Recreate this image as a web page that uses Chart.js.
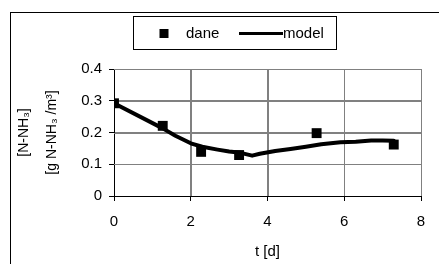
<!DOCTYPE html>
<html>
<head>
<meta charset="utf-8">
<script src="https://cdn.jsdelivr.net/npm/chart.js@4/dist/chart.umd.min.js"></script>
<style>
html,body{margin:0;padding:0;background:#fff;}
#wrap{width:439px;height:264px;position:relative;}
</style>
</head>
<body>
<div id="wrap"><canvas id="c" width="439" height="264"></canvas></div>
<script>
// Measured data ("dane")
const daneT = [0, 1.27, 2.27, 3.26, 5.28, 7.29];
const daneV = [0.292, 0.221, 0.139, 0.129, 0.198, 0.162];
// Model curve
const modelT = [0, 1.27, 1.6, 2.0, 2.3, 2.7, 3.0, 3.3, 3.6, 3.8, 4.2, 4.6, 5.0, 5.4, 5.9, 6.3, 6.7, 7.0, 7.29];
const modelV = [0.292, 0.213, 0.19, 0.166, 0.155, 0.146, 0.14, 0.136, 0.127, 0.133, 0.142, 0.148, 0.155, 0.163, 0.169, 0.171, 0.175, 0.175, 0.174];
// Axes
const xTicks = [0, 2, 4, 6, 8];
const yTicks = [0, 0.1, 0.2, 0.3, 0.4];
const seriesNames = ['dane', 'model'];
const xTitle = 't [d]';
const yTitle = ['[N-NH\u2083]', '[g N-NH\u2083 /m\u00B3]'];

const FONT = 'Liberation Sans, Arial, sans-serif';
const GRID = '#808080';

const framePlugin = {
  id: 'frame',
  beforeDraw(chart) {
    const ctx = chart.ctx;
    ctx.save();
    ctx.fillStyle = '#fff';
    ctx.fillRect(0, 0, chart.width, chart.height);
    ctx.strokeStyle = '#000';
    ctx.lineWidth = 1;
    ctx.strokeRect(10.5, 12.5, 500, 400);
    ctx.restore();
  },
  beforeDatasetsDraw(chart) {
    // gridlines through the library's scales
    const ctx = chart.ctx;
    const xs = chart.scales.x, ys = chart.scales.y;
    const a = chart.chartArea;
    ctx.save();
    ctx.strokeStyle = GRID;
    ctx.lineWidth = 1;
    ctx.beginPath();
    xTicks.forEach(v => {
      if (v === xs.min) return;
      const px = Math.round(xs.getPixelForValue(v)) + 0.5;
      ctx.moveTo(px, a.top);
      ctx.lineTo(px, a.bottom);
    });
    yTicks.forEach(v => {
      if (v === ys.min) return;
      const py = Math.round(ys.getPixelForValue(v)) + 0.5;
      ctx.moveTo(a.left, py);
      ctx.lineTo(a.right, py);
    });
    ctx.stroke();
    ctx.restore();
  },
  afterDraw(chart) {
    const ctx = chart.ctx;
    ctx.save();
    // legend box
    ctx.strokeStyle = '#000';
    ctx.lineWidth = 1;
    ctx.strokeRect(133.5, 16.5, 203, 33);
    const cy = 33.5;
    ctx.fillStyle = '#000';
    ctx.fillRect(159.5, cy - 4.5, 9, 9);
    ctx.font = '15px ' + FONT;
    ctx.textBaseline = 'middle';
    ctx.textAlign = 'left';
    ctx.fillText(chart.data.datasets[0].label, 186, cy);
    ctx.beginPath();
    ctx.lineWidth = 3;
    ctx.moveTo(239, cy);
    ctx.lineTo(283, cy);
    ctx.stroke();
    ctx.fillText(chart.data.datasets[1].label, 283, cy);
    ctx.restore();
  }
};

new Chart(document.getElementById('c'), {
  type: 'scatter',
  data: {
    datasets: [
      {
        label: seriesNames[0],
        data: daneT.map((t, i) => ({x: t, y: daneV[i]})),
        pointStyle: 'rect',
        pointRadius: 7,
        pointBackgroundColor: '#000',
        pointBorderWidth: 0,
        showLine: false,
        order: 1
      },
      {
        label: seriesNames[1],
        data: modelT.map((t, i) => ({x: t, y: modelV[i]})),
        showLine: true,
        pointRadius: 0,
        borderColor: '#000',
        borderWidth: 4,
        tension: 0,
        borderJoinStyle: 'round',
        borderCapStyle: 'round',
        order: 2
      }
    ]
  },
  options: {
    responsive: false,
    animation: false,
    devicePixelRatio: 1,
    layout: {padding: {left: 0, right: 18, top: 69, bottom: 0}},
    plugins: {legend: {display: false}, tooltip: {enabled: false}},
    scales: {
      x: {
        type: 'linear',
        min: 0, max: 8,
        afterFit(s) { s.height = 68; },
        afterBuildTicks(s) { s.ticks = xTicks.map(v => ({value: v})); },
        ticks: {color: '#000', font: {family: FONT, size: 15}, padding: 12, maxRotation: 0},
        grid: {display: true, drawOnChartArea: true, drawTicks: true, color: GRID, lineWidth: 1, tickLength: 5, tickColor: '#000'},
        border: {display: true, color: '#000', width: 1},
        title: {display: true, text: xTitle, color: '#000', font: {family: FONT, size: 15}, padding: {top: 0, bottom: 3}}
      },
      y: {
        type: 'linear',
        min: 0, max: 0.4,
        afterFit(s) { s.width = 114; },
        afterBuildTicks(s) { s.ticks = yTicks.map(v => ({value: v})); },
        ticks: {color: '#000', font: {family: FONT, size: 15}, padding: 7, callback: v => String(v)},
        grid: {display: true, drawOnChartArea: true, drawTicks: true, color: GRID, lineWidth: 1, tickLength: 5, tickColor: '#000'},
        border: {display: true, color: '#000', width: 1},
        title: {display: true, text: yTitle, color: '#000', font: {family: FONT, size: 14, lineHeight: 2.0}, padding: {top: 10, bottom: 0}}
      }
    }
  },
  plugins: [framePlugin]
});
</script>
</body>
</html>
